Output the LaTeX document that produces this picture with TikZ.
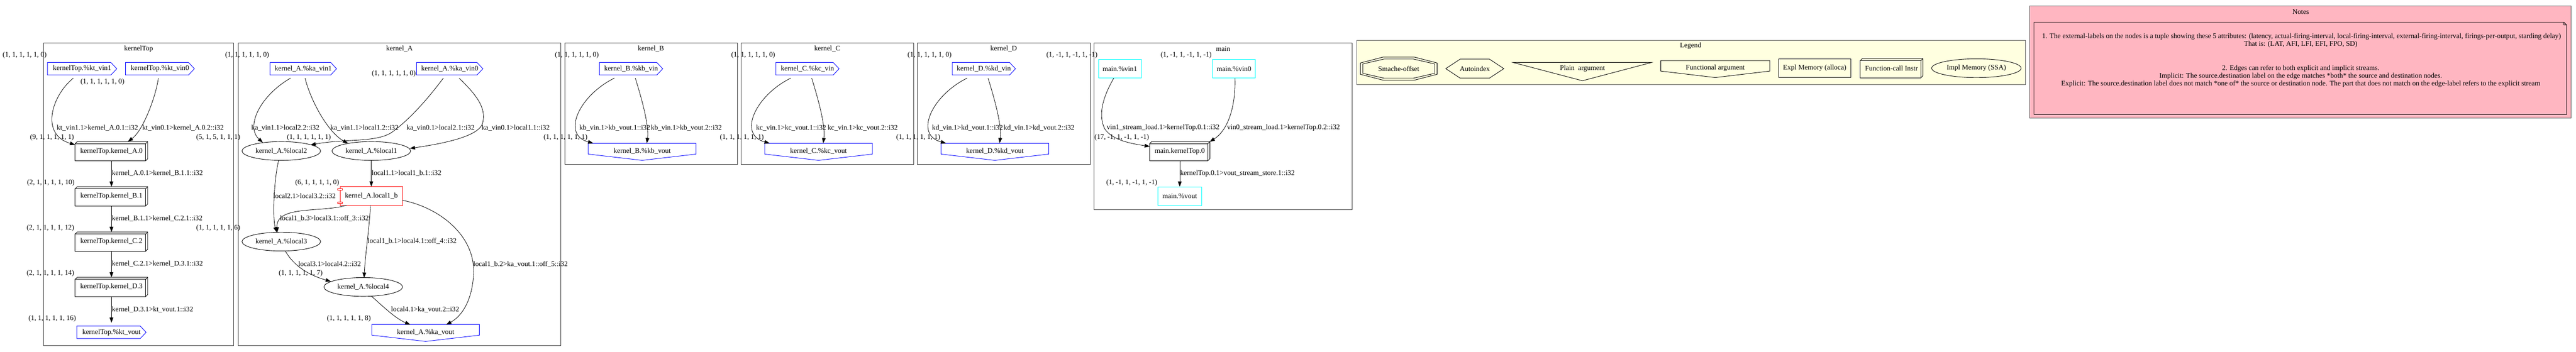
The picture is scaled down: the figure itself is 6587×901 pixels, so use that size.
\documentclass[tikz,border=0pt]{standalone}
\usepackage{fontspec}
\setmainfont{Liberation Serif}
\usetikzlibrary{arrows.meta,shapes.geometric}
\definecolor{lightyel}{HTML}{FFFFE0}
\definecolor{lpink}{HTML}{FFB6C1}
\definecolor{gvblue}{HTML}{0000FF}
\definecolor{gvcyan}{HTML}{00FFFF}
\definecolor{gvred}{HTML}{FF0000}
\newcommand\cdsshape[2]{\draw[#2] ([shift={(0,-16)}]#1.west) -- ([shift={(-15,-16)}]#1.east) -- (#1.east) -- ([shift={(-15,16)}]#1.east) -- ([shift={(0,16)}]#1.west) -- cycle;}
\newcommand\invhouseshape[2]{\draw[#2] ([shift={(0,-20)}]#1.west) -- ([shift={(0,-20)}]#1.east) -- ([shift={(0,7.5)}]#1.east) -- ([shift={(0,23.5)}]#1.center) -- ([shift={(0,7.5)}]#1.west) -- cycle;}
\newcommand\boxthreed[2]{%
 \draw[#2] ([shift={(0,5.3)}]#1.north west) rectangle ([shift={(-5.3,0)}]#1.south east);
 \draw[#2] ([shift={(0,5.3)}]#1.north west) -- ([shift={(5.3,0)}]#1.north west) -- (#1.north east) -- ([shift={(0,-5.3)}]#1.south east) -- ([shift={(-5.3,0)}]#1.south east);
 \draw[#2] ([shift={(-5.3,5.3)}]#1.north east) -- (#1.north east);}
\newcommand\compshape[2]{%
 \draw[#2] (#1.north west) rectangle (#1.south east);
 \draw[#2,fill=white] ([shift={(-5.7,5)}]#1.north west) rectangle ([shift={(5.3,9)}]#1.north west);
 \draw[#2,fill=white] ([shift={(-5.7,-9)}]#1.south west) rectangle ([shift={(5.3,-5)}]#1.south west);}
\begin{document}
\begin{tikzpicture}[x=1pt,y=-1pt,line width=1.2pt,
  tx/.style={font=\fontsize{18.2}{22}\selectfont, inner sep=0pt},
  nt/.style={font=\fontsize{18.1}{19.5}\selectfont, inner sep=0pt},
  shp/.style={font=\fontsize{18.2}{22}\selectfont, inner sep=0pt, minimum height=48pt},
  edge/.style={line width=1.1pt, -{Triangle[length=13.3pt,width=9.5pt]}},
  clus/.style={draw=black!80, line width=1.3pt}]
\useasboundingbox (0,0) rectangle (6587,901);

% ================= kernelTop =================
\draw[clus] (111,110) rectangle (598,885);
\node[tx] (tKT) at (354.5,125) {kernelTop};
\node[shp, minimum width=176pt] (ktvin1) at (210,176) {kernelTop.\%kt\_vin1};
\cdsshape{ktvin1}{gvblue}
\node[shp, minimum width=175pt] (ktvin0) at (409,176) {kernelTop.\%kt\_vin0};
\cdsshape{ktvin0}{gvblue}
\node[shp, minimum width=184.3pt] (ktA0) at (285,387) {kernelTop.kernel\_A.0};
\boxthreed{ktA0}{black}
\node[shp, minimum width=184.3pt] (ktB1) at (285,502.6) {kernelTop.kernel\_B.1};
\boxthreed{ktB1}{black}
\node[shp, minimum width=184.3pt] (ktC2) at (285,618.5) {kernelTop.kernel\_C.2};
\boxthreed{ktC2}{black}
\node[shp, minimum width=184.3pt] (ktD3) at (285,734.5) {kernelTop.kernel\_D.3};
\boxthreed{ktD3}{black}
\node[shp, minimum width=176pt] (ktvout) at (285,850.7) {kernelTop.\%kt\_vout};
\cdsshape{ktvout}{gvblue}

\draw[edge] ([shift={(-22.5,24)}]ktvin1.center) .. controls +(-55.5,45) and +(-90,-26.7) .. ([shift={(-93,-16.3)}]ktA0.center);
\draw[edge] ([shift={(-4,24)}]ktvin0.center) .. controls +(-7,50) and +(38,-27.5) .. ([shift={(42,-24.5)}]ktA0.center);
\draw[edge] (ktA0.south) -- (ktB1.north);
\draw[edge] (ktB1.south) -- (ktC2.north);
\draw[edge] (ktC2.south) -- (ktD3.north);
\draw[edge] (ktD3.south) -- (ktvout.north);

\node[tx] (lkt1) at (249,327.5) {kt\_vin1.1>kernel\_A.0.1::i32};
\node[tx] (lkt2) at (468,327.5) {kt\_vin0.1>kernel\_A.0.2::i32};
\node[tx, anchor=west] (lkt3) at (285.5,443.6) {kernel\_A.0.1>kernel\_B.1.1::i32};
\node[tx, anchor=west] (lkt4) at (285.5,559.3) {kernel\_B.1.1>kernel\_C.2.1::i32};
\node[tx, anchor=west] (lkt5) at (285.5,675.2) {kernel\_C.2.1>kernel\_D.3.1::i32};
\node[tx, anchor=west] (lkt6) at (285.5,792) {kernel\_D.3.1>kt\_vout.1::i32};

\node[tx] (xkt1) at (63,141) {(1, 1, 1, 1, 1, 0)};
\node[tx] (xkt2) at (262,210) {(1, 1, 1, 1, 1, 0)};
\node[tx] (xkt3) at (133,352) {(9, 1, 1, 1, 1, 1)};
\node[tx] (xkt4) at (558,352) {(5, 1, 5, 1, 1, 1)};
\node[tx] (xkt5) at (130,468) {(2, 1, 1, 1, 1, 10)};
\node[tx] (xkt6) at (129,584) {(2, 1, 1, 1, 1, 12)};
\node[tx] (xkt7) at (558,584) {(1, 1, 1, 1, 1, 6)};
\node[tx] (xkt8) at (129,700) {(2, 1, 1, 1, 1, 14)};
\node[tx] (xkt9) at (133.5,816) {(1, 1, 1, 1, 1, 16)};

% ================= kernel_A =================
\draw[clus] (609,110) rectangle (1434,885);
\node[tx] (tKA) at (1021.5,125) {kernel\_A};
\node[shp, minimum width=169pt] (kavin1) at (775.5,176) {kernel\_A.\%ka\_vin1};
\cdsshape{kavin1}{gvblue}
\node[shp, minimum width=168.3pt] (kavin0) at (1150,176) {kernel\_A.\%ka\_vin0};
\cdsshape{kavin0}{gvblue}
\node[shp, ellipse, draw, minimum width=201pt] (kal2) at (719.3,386.5) {kernel\_A.\%local2};
\node[shp, ellipse, draw, minimum width=201pt] (kal1) at (949.5,386.5) {kernel\_A.\%local1};
\node[shp, minimum width=158.6pt, minimum height=47.4pt] (kal1b) at (949.5,502) {kernel\_A.local1\_b};
\compshape{kal1b}{gvred}
\node[shp, ellipse, draw, minimum width=201pt] (kal3) at (719.3,618.5) {kernel\_A.\%local3};
\node[shp, ellipse, draw, minimum width=201pt] (kal4) at (928.8,734.6) {kernel\_A.\%local4};
\node[shp, minimum width=274pt] (kavout) at (1088.4,850.5) {kernel\_A.\%ka\_vout};
\invhouseshape{kavout}{gvblue}

\draw[edge] ([shift={(-32.5,24)}]kavin1.center) .. controls +(-78,45) and +(-45,-41) .. ([shift={(-47.3,-21.5)}]kal2.center);
\draw[edge] ([shift={(4.5,24)}]kavin1.center) .. controls +(15,60) and +(-50,-27) .. ([shift={(-59.5,-19.5)}]kal1.center);
\draw[edge] ([shift={(-16.4,24)}]kavin0.center) .. controls +(-33.6,45) and +(50,-35) .. (1000,340) .. controls +(-40,25) and +(86,-16) .. ([shift={(74.7,-15.5)}]kal2.center);
\draw[edge] ([shift={(24,24)}]kavin0.center) .. controls +(41,40) and +(11,-40) .. (1234,315) .. controls +(-9,35) and +(82,-12) .. ([shift={(98.5,-6.5)}]kal1.center);
\draw[edge] ([shift={(-6.6,23.5)}]kal2.center) .. controls +(-12.7,50) and +(-10.5,-34.7) .. ([shift={(-11.8,-23.8)}]kal3.center);
\draw[edge] (kal1.south) -- (kal1b.north);
\draw[edge] ([shift={(-63.5,23.7)}]kal1b.center) .. controls +(-66,19) and +(-4,-70) .. ([shift={(-10.3,-23.5)}]kal3.center);
\draw[edge] ([shift={(-2.2,23.7)}]kal1b.center) .. controls +(-3,60) and +(3,-60) .. ([shift={(2.2,-23.6)}]kal4.center);
\draw[edge] ([shift={(79.3,10.7)}]kal1b.center) .. controls +(90.5,17.3) and +(4,-100) .. (1211,700) .. controls +(-3,70) and +(39,-21) .. ([shift={(52.6,-19.5)}]kavout.center);
\draw[edge] ([shift={(10.2,23.9)}]kal3.center) .. controls +(15.5,27.6) and +(-71,-20.5) .. ([shift={(-82.8,-14.1)}]kal4.center);
\draw[edge] ([shift={(21.2,23.9)}]kal4.center) .. controls +(25,21.5) and +(-39,-16) .. ([shift={(-39.4,-19.5)}]kavout.center);

\node[tx] (lka1) at (729.8,327.5) {ka\_vin1.1>local2.2::i32};
\node[tx] (lka2) at (932,327.5) {ka\_vin1.1>local1.2::i32};
\node[tx] (lka3) at (1126.6,327.5) {ka\_vin0.1>local2.1::i32};
\node[tx] (lka4) at (1318.5,327.5) {ka\_vin0.1>local1.1::i32};
\node[tx, anchor=west] (lka5) at (950,443.6) {local1.1>local1\_b.1::i32};
\node[tx] (lka6) at (778.5,502) {local2.1>local3.2::i32};
\node[tx] (lka7) at (829.4,559.5) {local1\_b.3>local3.1::off\_3::i32};
\node[tx] (lka8) at (1053.8,617.7) {local1\_b.1>local4.1::off\_4::i32};
\node[tx] (lka9) at (842.8,676) {local3.1>local4.2::i32};
\node[tx] (lka10) at (1331,676) {local1\_b.2>ka\_vout.1::off\_5::i32};
\node[tx] (lka11) at (1087,792) {local4.1>ka\_vout.2::i32};

\node[tx] (xka1) at (632,141) {(1, 1, 1, 1, 1, 0)};
\node[tx] (xka2) at (1007,189) {(1, 1, 1, 1, 1, 0)};
\node[tx] (xka3) at (790,352) {(1, 1, 1, 1, 1, 1)};
\node[tx] (xka4) at (811,468) {(6, 1, 1, 1, 1, 0)};
\node[tx] (xka5) at (769,700) {(1, 1, 1, 1, 1, 7)};
\node[tx] (xka6) at (892,816) {(1, 1, 1, 1, 1, 8)};

% ================= kernel_B, C, D =================
\foreach \n/\N/\o in {b/B/0, c/C/451, d/D/902}{
  \draw[clus] (1444+\o,110) rectangle (1886+\o,421);
  \node[tx] (t\n) at (1664.5+\o,125) {kernel\_\N};
  \node[tx] (x0\n) at (1475+\o,141) {(1, 1, 1, 1, 1, 0)};
  \node[shp, minimum width=160.6pt] (vin\n) at (1613.7+\o,176) {kernel\_\N.\%k\n\_vin};
  \cdsshape{vin\n}{gvblue}
  \node[shp, minimum width=274.2pt] (vout\n) at (1642+\o,387) {kernel\_\N.\%k\n\_vout};
  \invhouseshape{vout\n}{gvblue}
  \node[tx] (x1\n) at (1446+\o,352) {(1, 1, 1, 1, 1, 1)};
  \draw[edge] ([shift={(-42.7,24)}]vin\n.center) .. controls +(-91,45) and +(-82,-21.6) .. ([shift={(-125,-20.4)}]vout\n.center);
  \draw[edge] ([shift={(10.8,24)}]vin\n.center) .. controls +(15.5,50) and +(6,-46.6) .. ([shift={(12,-20.4)}]vout\n.center);
  \node[tx] (la\n) at (1572+\o,327.5) {k\n\_vin.1>k\n\_vout.1::i32};
  \node[tx] (lb\n) at (1755+\o,327.5) {k\n\_vin.1>k\n\_vout.2::i32};
}
\node[tx] (xmain0) at (2741,141) {(1, -1, 1, -1, 1, -1)};

% ================= main =================
\draw[clus] (2797.5,110) rectangle (3458,537);
\node[tx] (tmain) at (3127.7,125) {main};
\node[shp, draw=gvcyan, minimum width=109.7pt] (mvin1) at (2863.5,176) {main.\%vin1};
\node[shp, draw=gvcyan, minimum width=109.5pt] (mvin0) at (3155.3,176) {main.\%vin0};
\node[shp, minimum width=153pt] (mkt0) at (3016.7,387) {main.kernelTop.0};
\boxthreed{mkt0}{black}
\node[shp, draw=gvcyan, minimum width=111.5pt] (mvout) at (3016.7,502.5) {main.\%vout};
\draw[edge] ([shift={(-15.5,24)}]mvin1.center) .. controls +(-23,40) and +(-20,-40) .. (2825,330) .. controls +(20,30) and +(-45,-7) .. ([shift={(-76.5,-12)}]mkt0.center);
\draw[edge] ([shift={(2.4,24)}]mvin0.center) .. controls +(2.3,60) and +(52,-33) .. ([shift={(76.5,-24)}]mkt0.center);
\draw[edge] (mkt0.south) -- (mvout.north);
\node[tx] (lm1) at (2974,327.5) {vin1\_stream\_load.1>kernelTop.0.1::i32};
\node[tx] (lm2) at (3282,327.5) {vin0\_stream\_load.1>kernelTop.0.2::i32};
\node[tx, anchor=west] (lm3) at (3017.3,443.6) {kernelTop.0.1>vout\_stream\_store.1::i32};
\node[tx] (xm1) at (3033,141) {(1, -1, 1, -1, 1, -1)};
\node[tx] (xm2) at (2868.4,352) {(17, -1, 1, -1, 1, -1)};
\node[tx] (xm3) at (2894,468) {(1, -1, 1, -1, 1, -1)};

% ================= Legend =================
\draw[clus, draw=black!65, fill=lightyel] (3469,104) rectangle (5179.6,216.7);
\node[tx] (tLeg) at (4323,118) {Legend};
\node[tx] (so) at (3576.6,175.7) {Smache-offset};
\draw ([shift={(-39.5,-29.7)}]so.center) -- ([shift={(39.5,-29.7)}]so.center) -- ([shift={(98,-14.5)}]so.center) -- ([shift={(98,14.5)}]so.center) -- ([shift={(39.5,29.7)}]so.center) -- ([shift={(-39.5,29.7)}]so.center) -- ([shift={(-98,14.5)}]so.center) -- ([shift={(-98,-14.5)}]so.center) -- cycle;
\draw ([shift={(-37.5,-24.5)}]so.center) -- ([shift={(37.5,-24.5)}]so.center) -- ([shift={(92,-12)}]so.center) -- ([shift={(92,12)}]so.center) -- ([shift={(37.5,24.5)}]so.center) -- ([shift={(-37.5,24.5)}]so.center) -- ([shift={(-92,12)}]so.center) -- ([shift={(-92,-12)}]so.center) -- cycle;
\node[tx] (ai) at (3771.1,175.7) {Autoindex};
\draw ([shift={(-74.3,0)}]ai.center) -- ([shift={(-37.3,-24.4)}]ai.center) -- ([shift={(37.3,-24.4)}]ai.center) -- ([shift={(74.3,0)}]ai.center) -- ([shift={(37.3,24.4)}]ai.center) -- ([shift={(-37.3,24.4)}]ai.center) -- cycle;
\node[tx] (pa) at (4046.3,175.7) {Plain\ \ argument};
\draw ([shift={(-177.3,-15.7)}]pa.center) -- ([shift={(176.7,-15.7)}]pa.center) -- ([shift={(0,31)}]pa.center) -- cycle;
\node[tx] (fa) at (4386,173.7) {Functional argument};
\draw ([shift={(-139.3,-18.5)}]fa.center) -- ([shift={(139.3,-18.5)}]fa.center) -- ([shift={(139.3,8.3)}]fa.center) -- ([shift={(0,24.8)}]fa.center) -- ([shift={(-139.3,8.3)}]fa.center) -- cycle;
\node[shp, draw, minimum width=184.6pt] (em) at (4640.3,174.6) {Expl Memory (alloca)};
\node[shp, minimum width=159.3pt] (fc) at (4836.7,174.6) {Function-call Instr};
\boxthreed{fc}{black}
\node[shp, ellipse, draw, minimum width=228.7pt] (im) at (5053.7,174.6) {Impl Memory (SSA)};

% ================= Notes =================
\draw[clus, draw=black!65, fill=lpink] (5189.5,15.6) rectangle (6575,302.8);
\node[tx] (tNotes) at (5883,30.4) {Notes};
\draw[fill=lpink] (5201,57) -- (6556,57) -- (6563,64) -- (6563,293) -- (5201,293) -- cycle;
\draw (6556,57) -- (6556,64) -- (6563,64);
\node[nt] (n1) at (5885,93.5) {1. The external-labels on the nodes is a tuple showing these 5 attributes: (latency, actual-firing-interval, local-firing-interval, external-firing-interval, firings-per-output, starding delay)};
\node[nt] (n2) at (5883,113) {That is: (LAT, AFI, LFI, EFI, FPO, SD)};
\node[nt] (n3) at (5883,175.4) {2. Edges can refer to both explicit and implicit streams.};
\node[nt] (n4) at (5883,195.3) {Implicit: The source.destination label on the edge matches *both* the source and destination nodes.};
\node[nt] (n5) at (5883,215.5) {Explicit: The source.destination label does not match *one of* the source or destination node. The part that does not match on the edge-label refers to the explicit stream};
\end{tikzpicture}
\end{document}
